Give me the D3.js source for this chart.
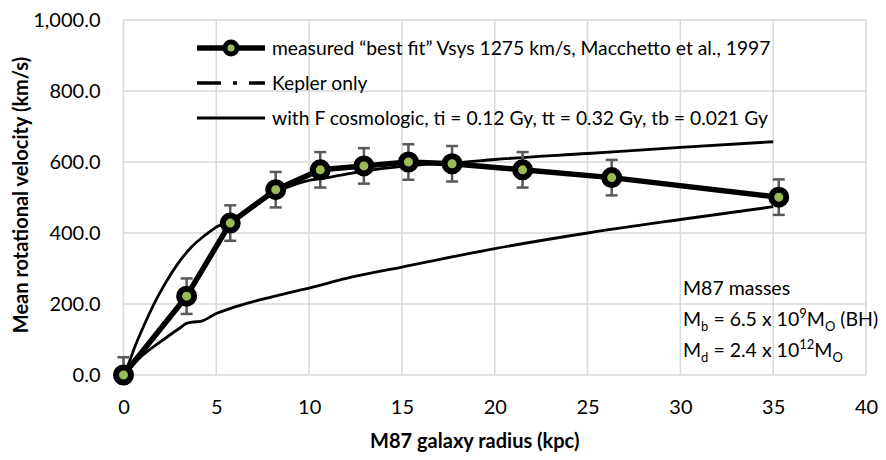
<!DOCTYPE html>
<html>
<head>
<meta charset="utf-8">
<script src="https://cdn.jsdelivr.net/npm/d3@7"></script>
<style>
body{margin:0;background:#fff;}
svg{display:block;font-family:Lato,"Open Sans",sans-serif;}
.grid line{stroke:#d9d9d9;stroke-width:1.5;}
.tick text{fill:#000;}
</style>
</head>
<body>
<svg id="chart" width="886" height="460"></svg>
<script>
var svgWidth=886;
var svgHeight=460;
var plotLeft=123.5, plotRight=866, plotTop=20, plotBottom=375;

// data
var xTicks=[0,5,10,15,20,25,30,35,40];
var yTicks=[0,200,400,600,800,1000];
var measuredR=[0,3.4,5.75,8.2,10.6,12.95,15.35,17.7,21.5,26.3,35.3];
var measuredV=[0,222,428,522,578,589,600,595,578,556,501];
var measuredErr=50;
var keplerR=[0,1,2,3,3.42,3.7,4.15,5,6,7,8,9,10,12,15,20,25,30,35];
var keplerV=[0,54,94,131,146,149,151,173,192,207,220,233,245,272,304,356,400,438,474];
var cosmoR=[0,0.3,0.6,1.15,1.7,2.25,2.95,3.65,4.4,5.1,5.75,7,8.2,9,10,11,12,14,16,18,20,25,30,35];
var cosmoV=[0,35,78,145,206,258,315,360,394,420,432,478,515,532,548,556,566,582,592,598,607,624,641,657];
var legendLabels=["measured \u201cbest fit\u201d Vsys 1275 km/s, Macchetto et al., 1997","Kepler only","with F cosmologic, ti = 0.12 Gy, tt = 0.32 Gy, tb = 0.021 Gy"];

var svg=d3.select("#chart");

var xScale=d3.scaleLinear().domain([0,40]).range([plotLeft,plotRight]);
var yScale=d3.scaleLinear().domain([0,1000]).range([plotBottom,plotTop]);

// grid
var grid=svg.append("g").attr("class","grid");
grid.selectAll("line.v").data(xTicks).enter().append("line")
    .attr("x1",function(d){return xScale(d);})
    .attr("x2",function(d){return xScale(d);})
    .attr("y1",plotTop).attr("y2",plotBottom);
grid.selectAll("line.h").data(yTicks).enter().append("line")
    .attr("y1",function(d){return yScale(d);})
    .attr("y2",function(d){return yScale(d);})
    .attr("x1",plotLeft).attr("x2",plotRight);

// axes (labels only)
svg.append("g")
    .attr("transform","translate(0,"+plotBottom+")")
    .call(d3.axisBottom(xScale).tickValues(xTicks).tickSize(0).tickPadding(25))
    .call(function(g){g.select(".domain").remove();})
    .selectAll("text").attr("font-size","20px").attr("font-family","Lato");
svg.append("g")
    .attr("transform","translate("+plotLeft+",0)")
    .call(d3.axisLeft(yScale).tickValues(yTicks).tickSize(0).tickPadding(23).tickFormat(d3.format(",.1f")))
    .call(function(g){g.select(".domain").remove();})
    .selectAll("text").attr("font-size","20px").attr("font-family","Lato");

// axis titles
svg.append("text")
    .attr("x",(plotLeft+plotRight)/2-20).attr("y",448)
    .attr("text-anchor","middle").attr("font-weight","bold").attr("font-size","20px")
    .text("M87 galaxy radius (kpc)");
svg.append("text")
    .attr("transform","translate(28,"+195+") rotate(-90)")
    .attr("text-anchor","middle").attr("font-weight","bold").attr("font-size","20px")
    .text("Mean rotational velocity (km/s)");

// thin model curves
var line=d3.line().x(function(d){return xScale(d[0]);}).y(function(d){return yScale(d[1]);});
svg.append("path")
    .datum(d3.zip(keplerR,keplerV))
    .attr("fill","none").attr("stroke","#000").attr("stroke-width",2.8)
    .attr("d",line.curve(d3.curveMonotoneX));
svg.append("path")
    .datum(d3.zip(cosmoR,cosmoV))
    .attr("fill","none").attr("stroke","#000").attr("stroke-width",2.8)
    .attr("d",line.curve(d3.curveMonotoneX));

// measured line
var measured=d3.zip(measuredR,measuredV);
svg.append("path")
    .datum(measured)
    .attr("fill","none").attr("stroke","#000").attr("stroke-width",5.5)
    .attr("stroke-linejoin","round")
    .attr("d",line.curve(d3.curveLinear));

// error bars
var eb=svg.append("g").attr("stroke","#595959").attr("stroke-width",2.5);
measured.forEach(function(d){
    var lo=Math.max(d[1]-measuredErr,0), hi=d[1]+measuredErr;
    var x=xScale(d[0]);
    eb.append("line").attr("x1",x).attr("x2",x).attr("y1",yScale(lo)).attr("y2",yScale(hi));
    eb.append("line").attr("x1",x-6).attr("x2",x+6).attr("y1",yScale(hi)).attr("y2",yScale(hi));
    if(lo>0) eb.append("line").attr("x1",x-6).attr("x2",x+6).attr("y1",yScale(lo)).attr("y2",yScale(lo));
});

// markers
svg.selectAll("circle.pt").data(measured).enter().append("circle")
    .attr("cx",function(d){return xScale(d[0]);})
    .attr("cy",function(d){return yScale(d[1]);})
    .attr("r",7.5)
    .attr("fill","#9bbb59").attr("stroke","#000").attr("stroke-width",6);

// legend
var lg=svg.append("g").attr("transform","translate(197,48)");
var rowH=35;
lg.append("line").attr("x1",0).attr("x2",68).attr("y1",0).attr("y2",0).attr("stroke","#000").attr("stroke-width",5.5);
lg.append("circle").attr("cx",34).attr("cy",0).attr("r",6).attr("fill","#9bbb59").attr("stroke","#000").attr("stroke-width",5);
lg.append("line").attr("x1",0).attr("x2",68).attr("y1",rowH).attr("y2",rowH).attr("stroke","#000").attr("stroke-width",3.5)
    .attr("stroke-dasharray","24,12,4,12,16");
lg.append("line").attr("x1",0).attr("x2",68).attr("y1",rowH*2).attr("y2",rowH*2).attr("stroke","#000").attr("stroke-width",3);
lg.selectAll("text").data(legendLabels).enter().append("text")
    .attr("x",75).attr("y",function(d,i){return i*rowH+7;})
    .attr("font-size","19.3px")
    .text(function(d){return d;});

// annotation
var an=svg.append("text").attr("x",683).attr("font-size","19.5px");
an.append("tspan").attr("x",683).attr("y",295).text("M87 masses");
var t2=svg.append("text").attr("x",683).attr("y",326).attr("font-size","19.5px");
t2.append("tspan").text("M");
t2.append("tspan").attr("font-size","13px").attr("dy",5).text("b");
t2.append("tspan").attr("dy",-5).text(" = 6.5 x 10");
t2.append("tspan").attr("font-size","13px").attr("dy",-8).text("9");
t2.append("tspan").attr("dy",8).text("M");
t2.append("tspan").attr("font-size","13px").attr("dy",5).text("O");
t2.append("tspan").attr("dy",-5).text(" (BH)");
var t3=svg.append("text").attr("x",683).attr("y",357).attr("font-size","19.5px");
t3.append("tspan").text("M");
t3.append("tspan").attr("font-size","13px").attr("dy",5).text("d");
t3.append("tspan").attr("dy",-5).text(" = 2.4 x 10");
t3.append("tspan").attr("font-size","13px").attr("dy",-8).text("12");
t3.append("tspan").attr("dy",8).text("M");
t3.append("tspan").attr("font-size","13px").attr("dy",5).text("O");
</script>
</body>
</html>
